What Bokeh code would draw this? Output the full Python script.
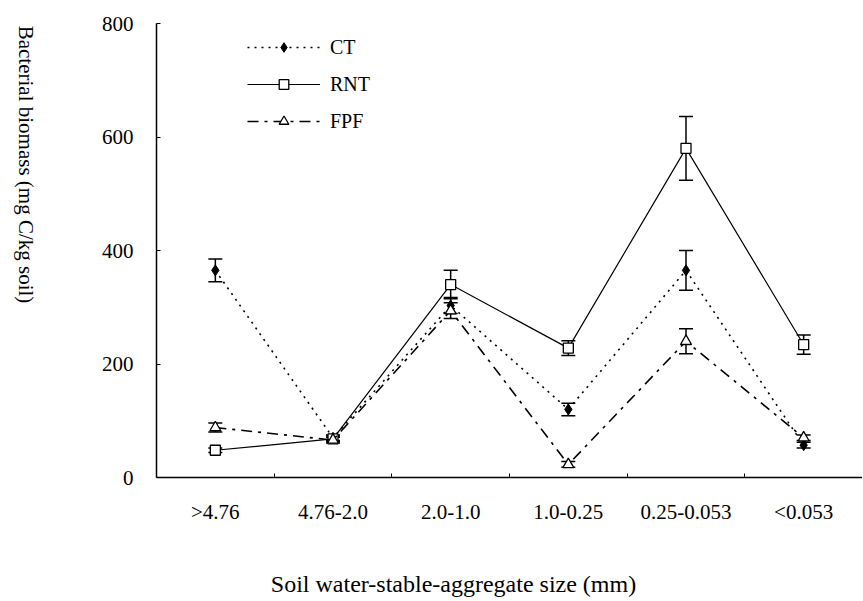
import math
from bokeh.plotting import figure
from bokeh.layouts import row, column
from bokeh.models import (Range1d, FixedTicker, Whisker, TeeHead, ColumnDataSource,
                          Legend, LegendItem, Label)
from bokeh.embed import file_html
from bokeh.resources import INLINE

categories = [">4.76", "4.76-2.0", "2.0-1.0", "1.0-0.25", "0.25-0.053", "<0.053"]
ct = [365, 70, 303, 120, 365, 57]
ct_err = [20, 5, 14, 11, 35, 5]
rnt = [48, 68, 340, 228, 580, 234]
rnt_err = [4, 5, 25, 13, 56, 17]
fpf = [88, 66, 294, 23, 240, 70]
fpf_err = [8, 5, 14, 5, 22, 5]
y_ticks = [0, 200, 400, 600, 800]
x_title = "Soil water-stable-aggregate size (mm)"
y_title = "Bacterial biomass (mg C/kg soil)"

xs = [i + 0.5 for i in range(len(categories))]
bounds = list(range(1, len(categories)))

SERIF = "Liberation Serif"
STRIP_W = 50
MAIN_W = 812
MAIN_H = 537
TOTAL_H = 600
FRAME_LEFT = 156


def strip(width, height):
    f = figure(width=width, height=height, output_backend="svg", toolbar_location=None,
               x_range=Range1d(0, 1), y_range=Range1d(0, 1),
               x_axis_location=None, y_axis_location=None,
               min_border=0, min_border_left=0, min_border_right=0,
               min_border_top=0, min_border_bottom=0)
    f.outline_line_color = None
    f.grid.grid_line_color = None
    return f


p = figure(width=MAIN_W, height=MAIN_H, output_backend="svg", toolbar_location=None,
           x_range=Range1d(0, len(categories)), y_range=Range1d(0, 800),
           min_border_left=FRAME_LEFT - STRIP_W, min_border_right=0, min_border_top=23,
           min_border_bottom=60)
p.outline_line_color = None
p.grid.grid_line_color = None
p.background_fill_color = "white"
p.border_fill_color = "white"

# x axis
p.xaxis.ticker = FixedTicker(ticks=xs, minor_ticks=bounds)
p.xaxis.major_label_overrides = {x: c for x, c in zip(xs, categories)}
p.xaxis.major_tick_line_color = None
p.xaxis.minor_tick_in = 4
p.xaxis.minor_tick_out = 0
p.xaxis.minor_tick_line_color = "black"
p.xaxis.axis_line_color = "black"
p.xaxis.axis_line_width = 1.5
p.xaxis.major_label_text_font = SERIF
p.xaxis.major_label_text_font_size = "21px"
p.xaxis.major_label_text_color = "black"
p.xaxis.major_label_standoff = 16

# y axis
p.yaxis.ticker = FixedTicker(ticks=y_ticks)
p.yaxis.major_tick_in = 4
p.yaxis.major_tick_out = 0
p.yaxis.minor_tick_line_color = None
p.yaxis.major_tick_line_color = "black"
p.yaxis.axis_line_color = "black"
p.yaxis.axis_line_width = 1.5
p.yaxis.major_label_text_font = SERIF
p.yaxis.major_label_text_font_size = "21px"
p.yaxis.major_label_text_color = "black"
p.yaxis.major_label_standoff = 23


def add_err(vals, errs):
    src = ColumnDataSource(dict(x=xs, lo=[v - e for v, e in zip(vals, errs)],
                                hi=[v + e for v, e in zip(vals, errs)]))
    w = Whisker(source=src, base="x", lower="lo", upper="hi", line_color="black", line_width=1.5,
                upper_head=TeeHead(size=14, line_color="black", line_width=1.5),
                lower_head=TeeHead(size=14, line_color="black", line_width=1.5))
    p.add_layout(w)


add_err(ct, ct_err)
add_err(rnt, rnt_err)
add_err(fpf, fpf_err)

l_ct = p.line(xs, ct, line_color="black", line_width=1.6, line_dash="2 5")
m_ct = p.scatter(xs, ct, marker="diamond", size=11, fill_color="black", line_color="black")
l_rnt = p.line(xs, rnt, line_color="black", line_width=1.2)
m_rnt = p.scatter(xs, rnt, marker="square", size=10, fill_color="white", line_color="black", line_width=1.3)
l_fpf = p.line(xs, fpf, line_color="black", line_width=1.6, line_dash="11 6 3 6")
m_fpf = p.scatter(xs, fpf, marker="triangle", size=11, fill_color="white", line_color="black", line_width=1.3)

legend = Legend(items=[LegendItem(label="CT", renderers=[l_ct, m_ct]),
                       LegendItem(label="RNT", renderers=[l_rnt, m_rnt]),
                       LegendItem(label="FPF", renderers=[l_fpf, m_fpf])],
                location=(91, 344), border_line_color=None, background_fill_alpha=0,
                glyph_width=73, glyph_height=24, label_height=24, spacing=13, padding=0, margin=0,
                label_standoff=10, label_text_font=SERIF, label_text_font_size="20px",
                label_text_color="black", label_text_baseline="middle")
p.add_layout(legend)

# y-axis title strip (text reads top to bottom)
ys = strip(STRIP_W, TOTAL_H)
ys.add_layout(Label(x=25, y=TOTAL_H - 164, x_units="screen", y_units="screen", angle=-math.pi / 2,
                    text=y_title, text_font=SERIF, text_font_size="21px",
                    text_align="center", text_baseline="middle", text_color="black"))

# x-axis title strip (its frame is aligned with the main frame by the column layout)
xsf = strip(MAIN_W, TOTAL_H - MAIN_H)
xsf.add_layout(Label(x=453 - FRAME_LEFT, y=(TOTAL_H - MAIN_H) - (583 - MAIN_H), x_units="screen",
                     y_units="screen", text=x_title, text_font=SERIF, text_font_size="24px",
                     text_align="center", text_baseline="middle", text_color="black"))

layout = row(ys, column(p, xsf, spacing=0), spacing=0)

open("out.html", "w").write(file_html(layout, INLINE))
